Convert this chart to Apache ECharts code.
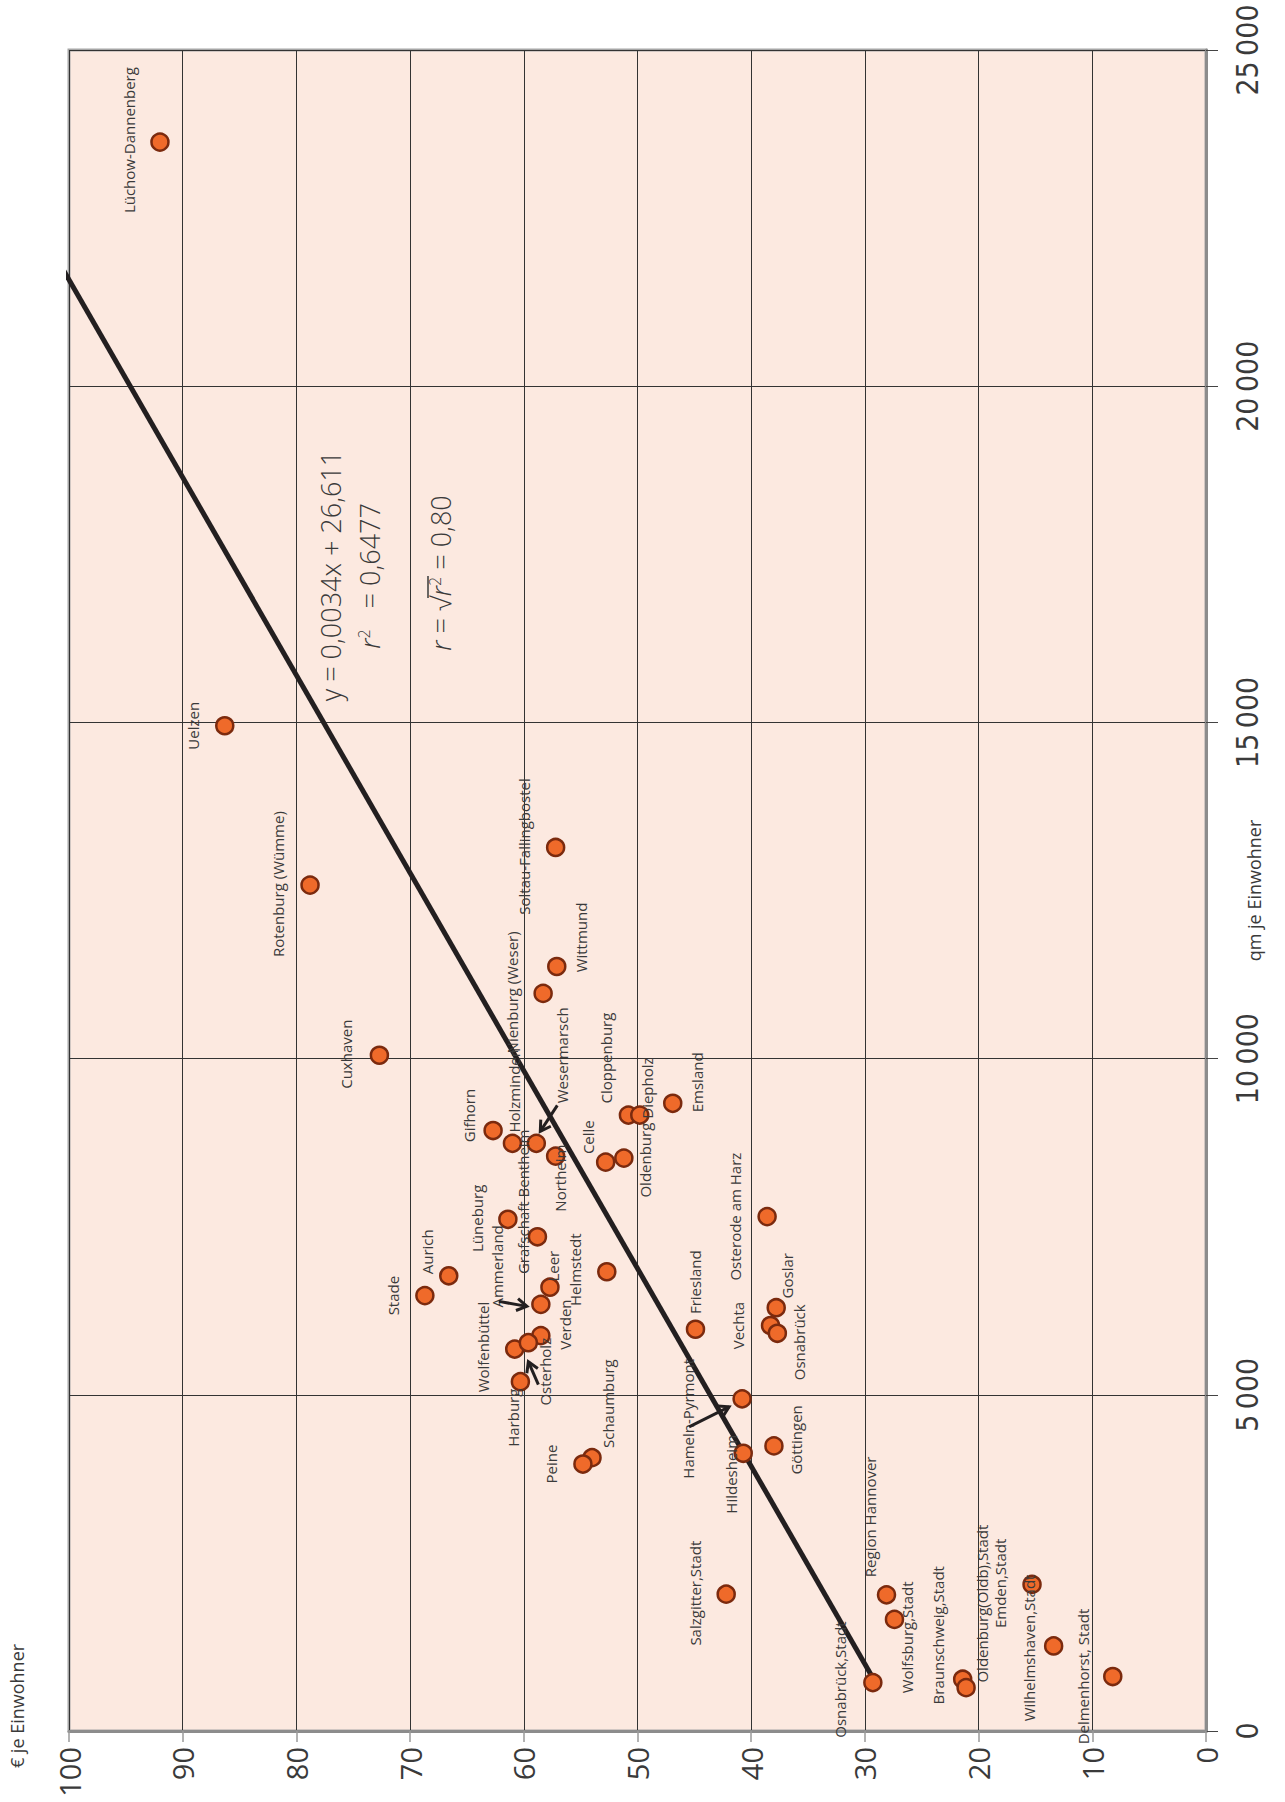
<!DOCTYPE html>
<html>
<head>
<meta charset="utf-8">
<script src="https://cdn.jsdelivr.net/npm/echarts@6/dist/echarts.min.js"></script>
<style>
html,body{margin:0;padding:0;background:#ffffff;}
#c{width:1285px;height:1802px;}
</style>
</head>
<body>
<div id="c"></div>
<script>
// ---- data (x: € je Einwohner, y: qm je Einwohner) ----
const names = ['Lüchow-Dannenberg','Uelzen','Rotenburg (Wümme)','Soltau-Fallingbostel','Wittmund','Nienburg (Weser)','Holzminden','Cuxhaven','Emsland','Cloppenburg','Diepholz','Gifhorn','Wesermarsch','Northeim','Celle','Oldenburg','Lüneburg','Osterode am Harz','Grafschaft Bentheim','Aurich','Helmstedt','Stade','Leer','Ammerland','Goslar','Vechta','Friesland','Osnabrück','Verden','Wolfenbüttel','Osterholz','Harburg','Hameln-Pyrmont','Göttingen','Hildesheim','Schaumburg','Peine','Salzgitter,Stadt','Region Hannover','Wolfsburg,Stadt','Braunschweig,Stadt','Oldenburg(Oldb),Stadt','Osnabrück,Stadt','Emden,Stadt','Wilhelmshaven,Stadt','Delmenhorst, Stadt'];
const euroPerInhabitant = [92.0, 86.3, 78.8, 57.2, 57.1, 58.3, 61.0, 72.7, 46.9, 50.8, 49.8, 62.7, 58.9, 57.2, 52.8, 51.2, 61.4, 38.6, 58.8, 66.6, 52.7, 68.7, 57.7, 58.5, 37.8, 38.3, 44.9, 37.7, 58.5, 60.8, 59.6, 60.3, 40.8, 38.0, 40.7, 54.0, 54.8, 42.2, 28.1, 27.4, 21.4, 21.1, 29.3, 15.3, 13.4, 8.2];
const sqmPerInhabitant = [23630, 14950, 12580, 13140, 11370, 10970, 8740, 10050, 9335, 9160, 9160, 8930, 8740, 8550, 8460, 8520, 7610, 7650, 7350, 6770, 6830, 6475, 6600, 6345, 6295, 6030, 5975, 5915, 5880, 5680, 5775, 5195, 4940, 4240, 4130, 4065, 3970, 2035, 2025, 1660, 770, 645, 720, 2180, 1265, 810];

// regression (from the chart's annotation)
const slope = 0.0034;
const intercept = 26.611;
const rSquared = 0.6477;

// axis scales
const euroAxis = {min: 0, max: 100, interval: 10};
const sqmAxis = {min: 0, max: 25000, interval: 5000};

// ---- layout (label offsets in px, relative to each point) ----
const labelOffsets = [
  [-31,-2],[-32,0],[-32,-1],[-32,-1],[24,-29],[-31,-1],[2,-53],[-33,-1],[24,-21],[-22,-57],
  [7,-27],[-24,-15],[26,-88],[4,22],[-18,-25],[21,2],[-31,-1],[-32,0],[-14,-35],[-22,-24],
  [-32,-2],[-32,0],[3,-21],[-44,-38],[11,-32],[-33,0],[0,-47],[22,9],[24,-11],[-32,-2],
  [17,29],[-7,36],[-54,20],[22,-6],[-12,21],[16,-54],[-32,0],[-31,-1],[-17,-78],[13,18],
  [-25,-44],[16,-84],[-33,-3],[-32,-1],[-25,2],[-30,0]
];
// arrows: [tail dx, tail dy, head dx, head dy] relative to the point
const arrows = {
  'Wesermarsch': [21,-38,4,-12],
  'Ammerland': [-42,-3,-14,2],
  'Osterholz': [10,42,0,19],
  'Hameln-Pyrmont': [-53,28,-13,8]
};

const fmtDe = (v, d) => v.toFixed(d).replace('.', ',');
const thousands = v => v === 0 ? '0' : String(v).replace(/\B(?=(\d{3})+(?!\d))/g, '\u2009');

const points = names.map((n, i) => [euroPerInhabitant[i], sqmPerInhabitant[i]]);
const qmMin = Math.min.apply(null, sqmPerInhabitant);
const qmMax = Math.max.apply(null, sqmPerInhabitant);
const trend = [[slope * qmMin + intercept, qmMin], [slope * qmMax + intercept, qmMax]];

const FONT = '"Open Sans","Noto Sans",sans-serif';
const NARROW = '"Liberation Sans Narrow","DejaVu Sans Condensed","Open Sans",sans-serif';
const TXT = '#3a3a3a';

const chart = echarts.init(document.getElementById('c'), null, {renderer: 'svg'});

function renderLabel(params, api) {
  const i = params.dataIndex;
  const p = api.coord([api.value(0), api.value(1)]);
  const off = labelOffsets[i];
  const children = [{
    type: 'text',
    x: p[0] + off[0], y: p[1] + off[1],
    rotation: Math.PI / 2,
    style: {text: names[i], fill: TXT, font: '15px ' + FONT, align: 'center', verticalAlign: 'middle'}
  }];
  const a = arrows[names[i]];
  if (a) {
    const tx = p[0] + a[0], ty = p[1] + a[1], hx = p[0] + a[2], hy = p[1] + a[3];
    let dx = hx - tx, dy = hy - ty;
    const L = Math.sqrt(dx * dx + dy * dy); dx /= L; dy /= L;
    const px = -dy, py = dx;
    children.push({type: 'polyline', shape: {points: [[tx, ty], [hx, hy]]}, style: {stroke: '#231f20', lineWidth: 3, fill: null}});
    children.push({type: 'polyline', shape: {points: [[hx - 10 * dx + 6 * px, hy - 10 * dy + 6 * py], [hx, hy], [hx - 10 * dx - 6 * px, hy - 10 * dy - 6 * py]]},
      style: {stroke: '#231f20', lineWidth: 3, fill: null}});
  }
  return {type: 'group', children: children};
}

const option = {
  animation: false,
  grid: {left: 69, right: 79, top: 50, bottom: 71, containLabel: false, outerBoundsMode: 'none',
         show: true, backgroundColor: '#fce9e0', borderColor: '#a6a6a6', borderWidth: 3},
  xAxis: {
    type: 'value', min: euroAxis.min, max: euroAxis.max, interval: euroAxis.interval, inverse: true, position: 'bottom',
    axisLine: {show: true, onZero: false, lineStyle: {color: '#8c8c8c', width: 3}},
    axisTick: {show: true, length: 11, lineStyle: {color: '#9a9a9a', width: 1.5}},
    axisLabel: {rotate: 90, margin: 16, fontSize: 29, color: TXT, fontFamily: FONT},
    splitLine: {show: true, lineStyle: {color: '#333333', width: 1}}
  },
  yAxis: {
    type: 'value', min: sqmAxis.min, max: sqmAxis.max, interval: sqmAxis.interval, position: 'right',
    axisLine: {show: true, onZero: false, lineStyle: {color: '#8c8c8c', width: 3}},
    axisTick: {show: true, length: 12, lineStyle: {color: '#444444', width: 1}},
    axisLabel: {rotate: 90, margin: 26, fontSize: 30, color: TXT, fontFamily: NARROW, formatter: thousands},
    splitLine: {show: true, lineStyle: {color: '#333333', width: 1}},
    name: 'qm je Einwohner', nameLocation: 'middle', nameRotate: 90, nameGap: 39, nameMoveOverlap: false,
    nameTextStyle: {fontSize: 18, color: TXT, fontFamily: FONT}
  },
  series: [
    {type: 'line', data: trend, symbol: 'none', clip: true, z: 2, silent: true,
     lineStyle: {color: '#231f20', width: 5}},
    {type: 'scatter', data: points, symbolSize: 17, z: 3, silent: true,
     itemStyle: {color: '#ef6a2a', borderColor: '#7b2a0e', borderWidth: 2.5, opacity: 1}},
    {type: 'custom', data: points, z: 4, silent: true, clip: false, renderItem: renderLabel,
     encode: {x: 0, y: 1}}
  ],
  graphic: [
    {type: 'text', x: 17, y: 1706, rotation: Math.PI / 2, z: 10,
     style: {text: '€ je Einwohner', font: '18px ' + FONT, fill: TXT, align: 'center', verticalAlign: 'middle'}},
    {type: 'text', x: 330, y: 576, rotation: Math.PI / 2, z: 10,
     style: {text: 'y = ' + fmtDe(slope, 4) + 'x + ' + fmtDe(intercept, 3), font: '300 27px ' + FONT, fill: TXT, align: 'center', verticalAlign: 'middle'}},
    {type: 'text', x: 369, y: 576, rotation: Math.PI / 2, z: 10,
     style: {text: '{i|r}{s|2}   = ' + fmtDe(rSquared, 4), font: '300 27px ' + FONT, fill: TXT, align: 'center', verticalAlign: 'middle',
       rich: {i: {font: 'italic 300 27px ' + FONT, fill: TXT}, s: {font: '300 16px ' + FONT, fill: TXT, verticalAlign: 'top'}}}},
    {type: 'text', x: 440, y: 573, rotation: Math.PI / 2, z: 10,
     style: {text: '{i|r} = √{i|r}{s|2} = ' + fmtDe(Math.sqrt(rSquared), 2), font: '300 27px ' + FONT, fill: TXT, align: 'center', verticalAlign: 'middle',
       rich: {i: {font: 'italic 300 27px ' + FONT, fill: TXT}, s: {font: '300 16px ' + FONT, fill: TXT, verticalAlign: 'top'}}}},
    {type: 'line', z: 10, shape: {x1: 428, y1: 598, x2: 428, y2: 576}, style: {stroke: TXT, lineWidth: 1.5}}
  ]
};
chart.setOption(option);
</script>
</body>
</html>
